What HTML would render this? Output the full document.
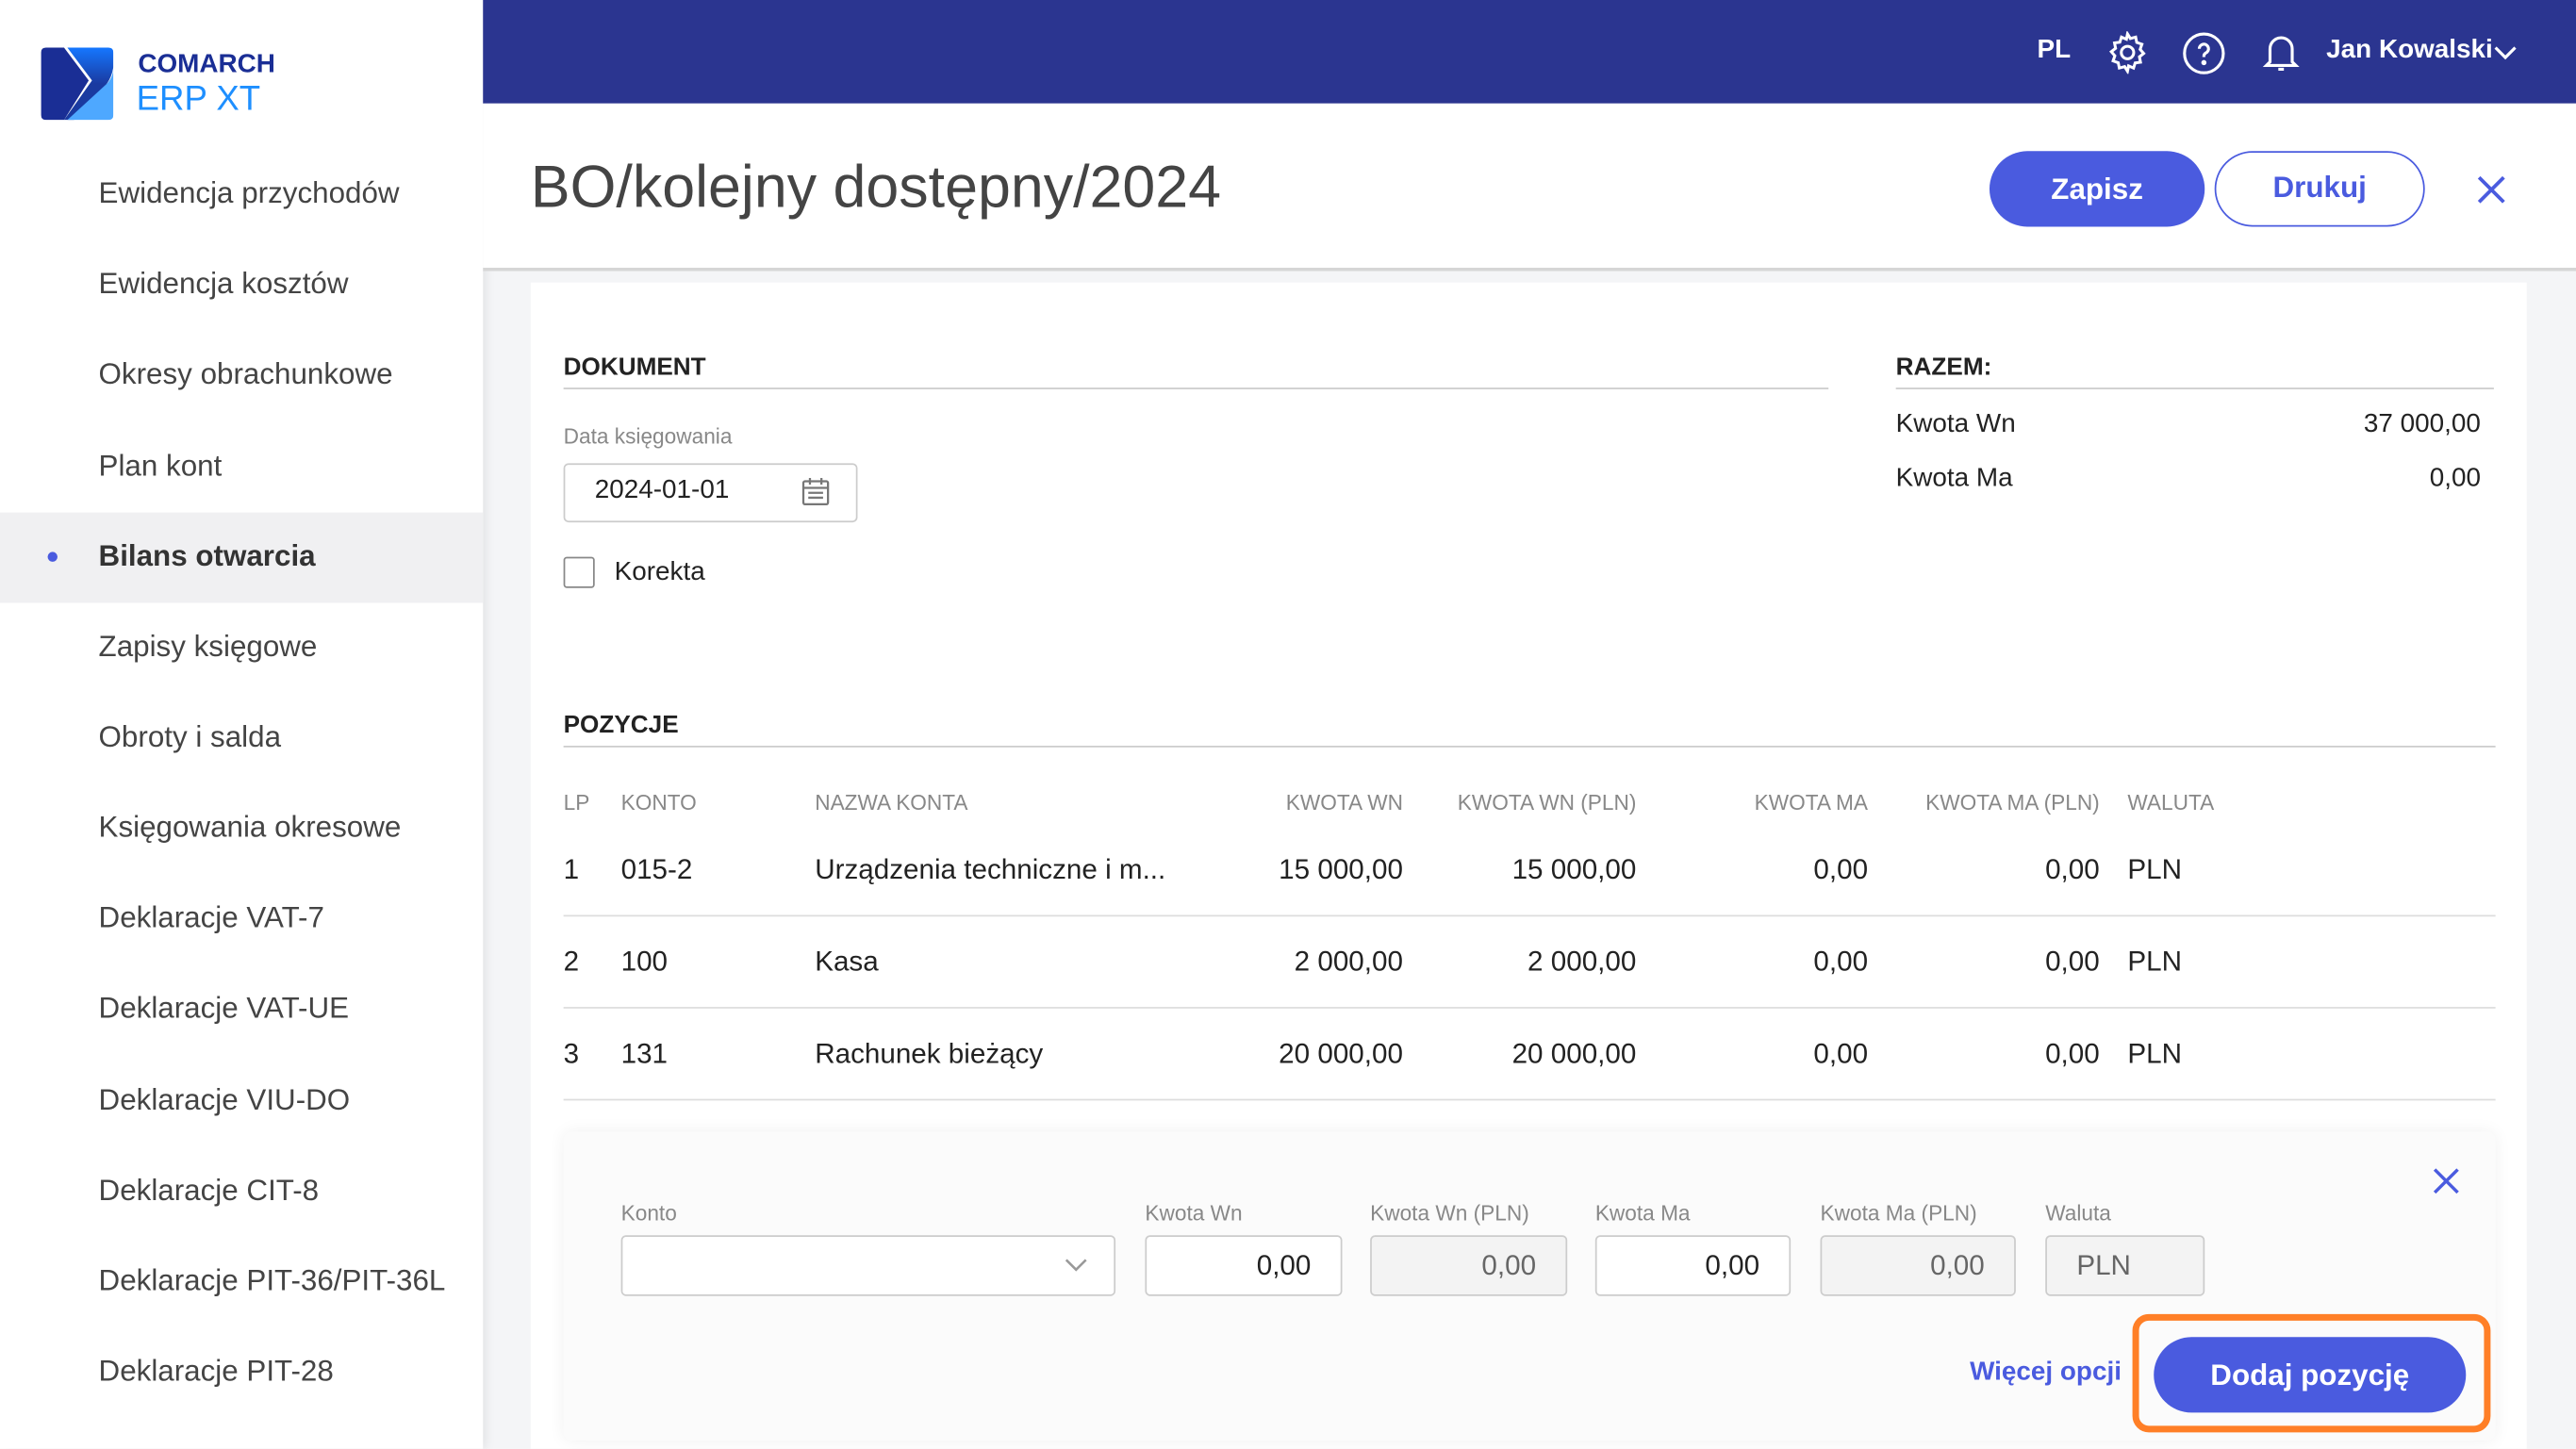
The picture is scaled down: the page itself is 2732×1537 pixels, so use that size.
<!DOCTYPE html>
<html><head><meta charset="utf-8"><style>
*{margin:0;padding:0;box-sizing:border-box}
html,body{width:2732px;height:1536px;overflow:hidden;background:#f4f5f7}
#r{position:absolute;left:0;top:0;width:1568px;height:882px;transform:scale(1.74235);transform-origin:0 0;font-family:"Liberation Sans",sans-serif;color:#333}
.a{position:absolute;white-space:nowrap}
.side{position:absolute;left:0;top:0;width:294px;height:882px;background:#fff;box-shadow:2px 0 6px rgba(0,0,0,.08)}
.mi{position:absolute;left:60px;font-size:18px;color:#444;transform:translateY(-50%)}
.hdr{position:absolute;left:294px;top:0;width:1274px;height:63px;background:#2b3590}
.tb{position:absolute;left:294px;top:63px;width:1274px;height:102px;background:#fff;border-bottom:2px solid #d6d6d6}
.card{position:absolute;left:323px;top:172px;width:1215px;height:710px;background:#fff}
.sec{font-size:15px;font-weight:bold;color:#222}
.th{font-size:13px;color:#888}
.td{font-size:17px;color:#222}
.line{position:absolute;height:1px;background:#ddd}
.inp{position:absolute;top:752px;height:37px;border:1px solid #ccc;border-radius:3px;background:#fff;font-size:17px;color:#222;text-align:right;padding:8px 18px 0 0}
.dis{background:#f3f3f3;color:#666}
.lbl{position:absolute;top:731px;font-size:13px;color:#888}
</style></head><body><div id="r">
<div class="side">
<svg class="a" style="left:25px;top:29px" width="44" height="44" viewBox="0 0 44 44"><defs><linearGradient id="g" x1="0" y1="0" x2="0" y2="1"><stop offset="0" stop-color="#1577ff"/><stop offset=".5" stop-color="#1a3aa0"/></linearGradient></defs><path d="M3 0 L14 0 L29 20 L14 44 L3 44 Q0 44 0 41 L0 3 Q0 0 3 0Z" fill="#1a2e95"/><path d="M16 0 L41 0 Q44 0 44 3 L44 12 Q43 18 40 22 L31 34 L20 44 L14 44 L31 20Z" fill="url(#g)"/><path d="M40 22 Q44 18 44 12 L44 41 Q44 44 41 44 L16 44Z" fill="#4ea8ff"/></svg>
<div class="a" style="left:84px;top:31px;font-size:16px;font-weight:bold;color:#1a2e95">COMARCH</div>
<div class="a" style="left:83px;top:49px;font-size:21px;color:#1e8fff">ERP XT</div>
<div class="a" style="left:0;top:312px;width:294px;height:55px;background:#f0f0f2"></div>
<div class="a" style="left:29px;top:336px;width:6px;height:6px;border-radius:50%;background:#4a5bdf"></div>
<div class="mi" style="top:118px">Ewidencja przychodów</div>
<div class="mi" style="top:173px">Ewidencja kosztów</div>
<div class="mi" style="top:228px">Okresy obrachunkowe</div>
<div class="mi" style="top:284px">Plan kont</div>
<div class="mi" style="top:339px;font-weight:bold;color:#333">Bilans otwarcia</div>
<div class="mi" style="top:394px">Zapisy księgowe</div>
<div class="mi" style="top:449px">Obroty i salda</div>
<div class="mi" style="top:504px">Księgowania okresowe</div>
<div class="mi" style="top:559px">Deklaracje VAT-7</div>
<div class="mi" style="top:614px">Deklaracje VAT-UE</div>
<div class="mi" style="top:670px">Deklaracje VIU-DO</div>
<div class="mi" style="top:725px">Deklaracje CIT-8</div>
<div class="mi" style="top:780px">Deklaracje PIT-36/PIT-36L</div>
<div class="mi" style="top:835px">Deklaracje PIT-28</div>
</div>
<div class="hdr">
<div class="a" style="left:946px;top:22px;font-size:16px;font-weight:bold;color:#fff">PL</div>
<svg class="a" style="left:988px;top:19px" width="26" height="26" viewBox="0 0 24 24" fill="none" stroke="#fff" stroke-width="1.6"><circle cx="12" cy="12" r="3.5"/><path d="M12 1.5l1.6 2.6 3-.8.6 3 2.9 1-1 2.9 2 2.3-2.4 1.9.6 3-3 .4-.9 2.9-2.8-1.2L12 22.5l-1.6-2.6-3 .8-.6-3-2.9-1 1-2.9-2-2.3 2.4-1.9-.6-3 3-.4.9-2.9 2.8 1.2z"/></svg>
<svg class="a" style="left:1034px;top:19px" width="27" height="27" viewBox="0 0 24 24" fill="none" stroke="#fff" stroke-width="1.6"><circle cx="12" cy="12" r="10.5"/><path d="M9.5 9.5a2.5 2.5 0 1 1 3.5 2.3c-.7.4-1 .9-1 1.7v.5"/><circle cx="12" cy="17" r=".6" fill="#fff"/></svg>
<svg class="a" style="left:1081px;top:18px" width="27" height="28" viewBox="0 0 24 24" fill="none" stroke="#fff" stroke-width="1.6"><path d="M6 17V10a6 6 0 0 1 12 0v7l2 2H4z"/><path d="M10.5 21h3"/></svg>
<div class="a" style="left:1122px;top:22px;font-size:16px;font-weight:bold;color:#fff">Jan Kowalski</div>
<svg class="a" style="left:1224px;top:27px" width="14" height="10" viewBox="0 0 14 10"><path d="M1 2l6 6 6-6" stroke="#fff" stroke-width="1.8" fill="none"/></svg>
</div>
<div class="tb">
<div class="a" style="left:29px;top:30px;font-size:36px;color:#444">BO/kolejny dostępny/2024</div>
<div class="a" style="left:917px;top:29px;width:131px;height:46px;border-radius:23px;background:#4a5bdf;color:#fff;font-size:18px;font-weight:bold;text-align:center;line-height:46px">Zapisz</div>
<div class="a" style="left:1054px;top:29px;width:128px;height:46px;border-radius:23px;border:1.5px solid #4a5bdf;color:#4a5bdf;font-size:18px;font-weight:bold;text-align:center;line-height:43px">Drukuj</div>
<svg class="a" style="left:1214px;top:44px" width="17" height="17" viewBox="0 0 17 17"><path d="M1 1l15 15M16 1L1 16" stroke="#4a5bdf" stroke-width="2.2"/></svg>
</div>
<div class="card"></div>
<div class="a sec" style="left:343px;top:215px">DOKUMENT</div>
<div class="line" style="left:343px;top:236px;width:770px;background:#ccc"></div>
<div class="a sec" style="left:1154px;top:215px">RAZEM:</div>
<div class="line" style="left:1154px;top:236px;width:364px;background:#ccc"></div>
<div class="a th" style="left:343px;top:258px">Data księgowania</div>
<div class="a" style="left:343px;top:282px;width:179px;height:36px;border:1px solid #ccc;border-radius:3px"></div>
<div class="a td" style="left:362px;top:290px;font-size:16px">2024-01-01</div>
<svg class="a" style="left:488px;top:291px" width="17" height="17" viewBox="0 0 17 17" fill="none" stroke="#777" stroke-width="1.3"><rect x="1" y="2" width="15" height="14" rx="1"/><path d="M1 6h15M5 0v4M12 0v4M4 9h9M4 12h9"/></svg>
<div class="a" style="left:343px;top:339px;width:19px;height:19px;border:1.5px solid #888;border-radius:2px"></div>
<div class="a td" style="left:374px;top:340px;font-size:16px">Korekta</div>
<div class="a td" style="left:1154px;top:250px;font-size:16px">Kwota Wn</div>
<div class="a td" style="left:1154px;top:283px;font-size:16px">Kwota Ma</div>
<div class="a td" style="right:58px;top:250px;font-size:16px">37 000,00</div>
<div class="a td" style="right:58px;top:283px;font-size:16px">0,00</div>
<div class="a sec" style="left:343px;top:433px">POZYCJE</div>
<div class="line" style="left:343px;top:454px;width:1176px;background:#ccc"></div>
<div class="a th" style="left:343px;top:481px">LP</div>
<div class="a th" style="left:378px;top:481px">KONTO</div>
<div class="a th" style="left:496px;top:481px">NAZWA KONTA</div>
<div class="a th" style="right:714px;top:481px">KWOTA WN</div>
<div class="a th" style="right:572px;top:481px">KWOTA WN (PLN)</div>
<div class="a th" style="right:431px;top:481px">KWOTA MA</div>
<div class="a th" style="right:290px;top:481px">KWOTA MA (PLN)</div>
<div class="a th" style="left:1295px;top:481px">WALUTA</div>

<div class="a td" style="left:343px;top:520px">1</div><div class="a td" style="left:378px;top:520px">015-2</div><div class="a td" style="left:496px;top:520px">Urządzenia techniczne i m...</div><div class="a td" style="right:714px;top:520px">15 000,00</div><div class="a td" style="right:572px;top:520px">15 000,00</div><div class="a td" style="right:431px;top:520px">0,00</div><div class="a td" style="right:290px;top:520px">0,00</div><div class="a td" style="left:1295px;top:520px">PLN</div>
<div class="line" style="left:343px;top:557px;width:1176px"></div>
<div class="a td" style="left:343px;top:576px">2</div><div class="a td" style="left:378px;top:576px">100</div><div class="a td" style="left:496px;top:576px">Kasa</div><div class="a td" style="right:714px;top:576px">2 000,00</div><div class="a td" style="right:572px;top:576px">2 000,00</div><div class="a td" style="right:431px;top:576px">0,00</div><div class="a td" style="right:290px;top:576px">0,00</div><div class="a td" style="left:1295px;top:576px">PLN</div>
<div class="line" style="left:343px;top:613px;width:1176px"></div>
<div class="a td" style="left:343px;top:632px">3</div><div class="a td" style="left:378px;top:632px">131</div><div class="a td" style="left:496px;top:632px">Rachunek bieżący</div><div class="a td" style="right:714px;top:632px">20 000,00</div><div class="a td" style="right:572px;top:632px">20 000,00</div><div class="a td" style="right:431px;top:632px">0,00</div><div class="a td" style="right:290px;top:632px">0,00</div><div class="a td" style="left:1295px;top:632px">PLN</div>
<div class="line" style="left:343px;top:669px;width:1176px"></div>

<div class="a" style="left:343px;top:689px;width:1176px;height:188px;background:#fbfbfb;border-radius:5px;box-shadow:0 0 10px rgba(0,0,0,.06)"></div>
<svg class="a" style="left:1481px;top:711px" width="16" height="16" viewBox="0 0 16 16"><path d="M1 1l14 14M15 1L1 15" stroke="#4a5bdf" stroke-width="2"/></svg>
<div class="lbl" style="left:378px">Konto</div>
<div class="lbl" style="left:697px">Kwota Wn</div>
<div class="lbl" style="left:834px">Kwota Wn (PLN)</div>
<div class="lbl" style="left:971px">Kwota Ma</div>
<div class="lbl" style="left:1108px">Kwota Ma (PLN)</div>
<div class="lbl" style="left:1245px">Waluta</div>
<div class="inp" style="left:378px;width:301px"></div>
<svg class="a" style="left:648px;top:766px" width="14" height="9" viewBox="0 0 14 9"><path d="M1 1l6 6 6-6" stroke="#999" stroke-width="1.5" fill="none"/></svg>
<div class="inp" style="left:697px;width:120px">0,00</div>
<div class="inp dis" style="left:834px;width:120px">0,00</div>
<div class="inp" style="left:971px;width:119px">0,00</div>
<div class="inp dis" style="left:1108px;width:119px">0,00</div>
<div class="inp dis" style="left:1245px;width:97px;text-align:left;padding-left:18px">PLN</div>
<div class="a" style="left:1199px;top:827px;font-size:16px;font-weight:bold;color:#4a5bdf">Więcej opcji</div>
<div class="a" style="left:1298px;top:800px;width:218px;height:72px;border:4px solid #ff7f27;border-radius:10px"></div>
<div class="a" style="left:1311px;top:814px;width:190px;height:46px;border-radius:23px;background:#4a5bdf;color:#fff;font-size:18px;font-weight:bold;text-align:center;line-height:46px">Dodaj pozycję</div>
</div></body></html>
